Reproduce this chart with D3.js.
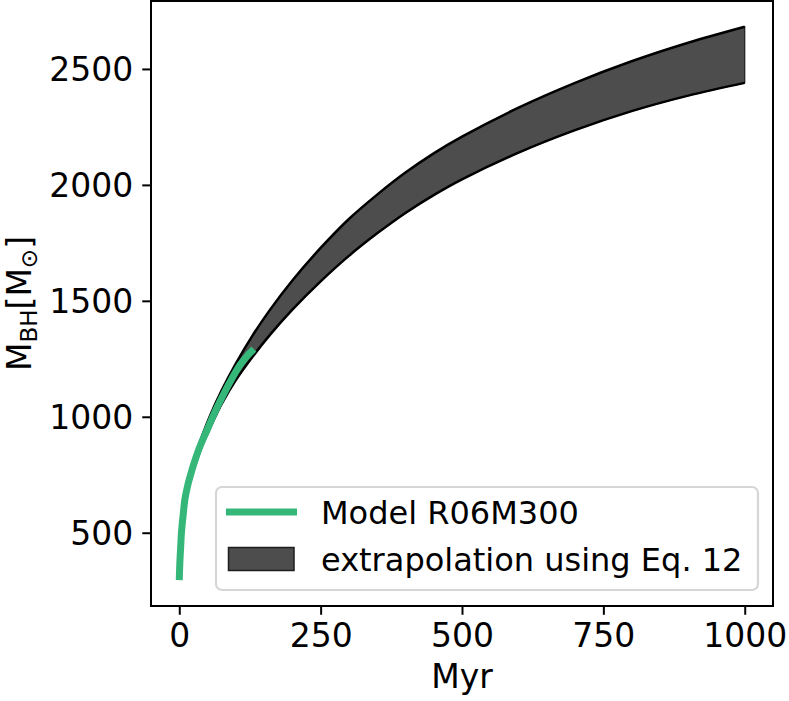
<!DOCTYPE html>
<html>
<head>
<meta charset="utf-8">
<script src="https://cdn.jsdelivr.net/npm/d3@7"></script>
<style>
  html, body { margin: 0; padding: 0; background: #ffffff; }
  svg { display: block; }
  text { font-family: "DejaVu Sans", sans-serif; fill: #000; }
</style>
</head>
<body>
<svg id="chart" width="789" height="701"></svg>
<script>
// ---- data ----
const modelTime = [0, 1, 2.5, 4, 7, 10, 15, 20, 26, 37, 49, 62, 76, 92, 108, 120, 132];
const modelMass = [296, 370, 440, 505, 580, 645, 705, 750, 799, 875, 942, 1015, 1086, 1160, 1225, 1262, 1292];

const extTime  = [0, 5, 10, 20, 30, 40, 55, 75, 100, 130, 160, 200, 250, 300, 350, 400, 450, 500, 600, 700, 800, 900, 1000];
const extUpper = [300, 520, 640, 760, 845, 915, 1008, 1114, 1229, 1352, 1460, 1588, 1728, 1853, 1958, 2053, 2136, 2208, 2333, 2440, 2533, 2613, 2682];
const extLower = [300, 498, 612, 728, 805, 873, 955, 1055, 1158, 1260, 1352, 1462, 1584, 1694, 1791, 1879, 1956, 2024, 2139, 2236, 2318, 2385, 2440];

const xTicks = [0, 250, 500, 750, 1000];
const yTicks = [500, 1000, 1500, 2000, 2500];

const legendLabels = ["Model R06M300", "extrapolation using Eq. 12"];
const lineColor = "#35b779";
const bandColor = "#4d4d4d";

// ---- layout ----
const svg = d3.select("#chart");
const plot = { left: 151, right: 773, top: 1, bottom: 606 };

const x = d3.scaleLinear().domain([-50, 1050]).range([plot.left, plot.right]);
const y = d3.scaleLinear().domain([184, 2793]).range([plot.bottom, plot.top]);

const band = extTime.map((t, i) => ({ t, hi: extUpper[i], lo: extLower[i] }));
const model = modelTime.map((t, i) => ({ t, m: modelMass[i] }));

const curve = d3.curveCatmullRom.alpha(0.5);

// band fill
svg.append("path")
  .datum(band)
  .attr("d", d3.area().x(d => x(d.t)).y0(d => y(d.lo)).y1(d => y(d.hi)).curve(curve))
  .attr("fill", bandColor)
  .attr("stroke", "#1e1e1e")
  .attr("stroke-width", 1.2);

// band edges
const upperLine = d3.line().x(d => x(d.t)).y(d => y(d.hi)).curve(curve);
const lowerLine = d3.line().x(d => x(d.t)).y(d => y(d.lo)).curve(curve);
svg.append("path").datum(band).attr("d", upperLine)
  .attr("fill", "none").attr("stroke", "#000").attr("stroke-width", 2.5);
svg.append("path").datum(band).attr("d", lowerLine)
  .attr("fill", "none").attr("stroke", "#000").attr("stroke-width", 2.5);

// model line
svg.append("path")
  .datum(model)
  .attr("d", d3.line().x(d => x(d.t)).y(d => y(d.m)).curve(curve))
  .attr("fill", "none")
  .attr("stroke", lineColor)
  .attr("stroke-width", 7);

// axes
const tickLen = 8.75;
const xAxis = svg.append("g")
  .attr("transform", `translate(0,${plot.bottom})`)
  .call(d3.axisBottom(x).tickValues(xTicks).tickSize(tickLen).tickPadding(8.5).tickFormat(d3.format("d")));
const yAxis = svg.append("g")
  .attr("transform", `translate(${plot.left},0)`)
  .call(d3.axisLeft(y).tickValues(yTicks).tickSize(tickLen).tickPadding(9).tickFormat(d3.format("d")));

[xAxis, yAxis].forEach(g => {
  g.select(".domain").remove();
  g.selectAll(".tick line").attr("stroke", "#000").attr("stroke-width", 2);
  g.selectAll(".tick text")
    .style("font-family", "'DejaVu Sans', sans-serif")
    .style("font-size", "33px")
    .attr("fill", "#000");
});
xAxis.selectAll(".tick text").attr("dy", null).attr("y", null)
  .attr("transform", "translate(0,41)");
yAxis.selectAll(".tick text").attr("dy", "0.36em");

// frame
svg.append("rect")
  .attr("x", plot.left).attr("y", plot.top)
  .attr("width", plot.right - plot.left).attr("height", plot.bottom - plot.top)
  .attr("fill", "none").attr("stroke", "#000").attr("stroke-width", 2);

// axis labels
svg.append("text")
  .attr("x", (plot.left + plot.right) / 2)
  .attr("y", 688)
  .attr("text-anchor", "middle")
  .style("font-size", "33px")
  .text("Myr");

const yl = svg.append("text")
  .attr("transform", `translate(31,${(plot.top + plot.bottom) / 2}) rotate(-90)`)
  .attr("text-anchor", "middle")
  .style("font-size", "33px");
yl.append("tspan").text("M");
yl.append("tspan").attr("dy", "6").style("font-size", "23px").text("BH");
yl.append("tspan").attr("dy", "-6").text("[M");
yl.append("tspan").attr("dy", "6").style("font-size", "23px").text("\u2299");
yl.append("tspan").attr("dy", "-6").text("]");

// legend
const lg = svg.append("g");
lg.append("rect")
  .attr("x", 216).attr("y", 487)
  .attr("width", 542).attr("height", 103)
  .attr("rx", 6).attr("ry", 6)
  .attr("fill", "rgba(255,255,255,0.8)")
  .attr("stroke", "#d6d6d6")
  .attr("stroke-width", 2.2);

lg.append("line")
  .attr("x1", 226).attr("x2", 297)
  .attr("y1", 512).attr("y2", 512)
  .attr("stroke", lineColor).attr("stroke-width", 7);
lg.append("rect")
  .attr("x", 228.5).attr("y", 547.5)
  .attr("width", 65.5).attr("height", 23)
  .attr("fill", bandColor)
  .attr("stroke", "#1e1e1e").attr("stroke-width", 1.5);

legendLabels.forEach((s, i) => {
  lg.append("text")
    .attr("x", 321)
    .attr("y", i === 0 ? 523.5 : 570.5)
    .style("font-size", "32px")
    .text(s);
});
</script>
</body>
</html>
